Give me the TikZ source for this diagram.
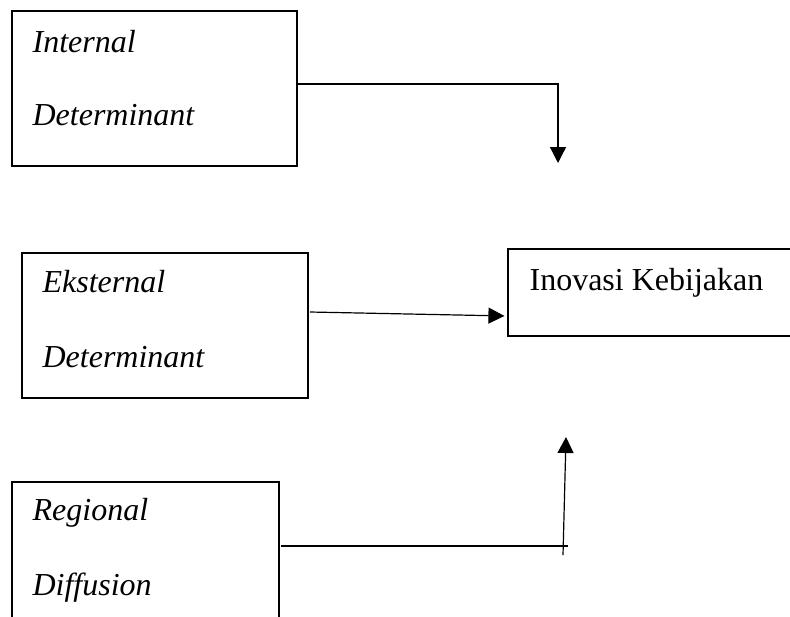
\documentclass[tikz,border=0pt]{standalone}
\usepackage{fontspec}
\setmainfont{Liberation Serif}
\usetikzlibrary{arrows.meta,positioning}

\begin{document}
\begin{tikzpicture}[x=0.5pt,y=-0.5pt,line width=0.6pt,
    box/.style={draw,rectangle,inner sep=0pt},
    lbl/.style={anchor=base west,inner sep=0pt,font=\fontsize{16}{19}\selectfont\itshape},
    arr/.style={-{Triangle[width=8pt,length=8pt]}}]

   \useasboundingbox (0,0) rectangle (790,616);
   \clip (0,0) rectangle (790,616);

   % kotak faktor
   \node[box,minimum width=142.5pt,minimum height=77.5pt] (intbox) at (154.5,88.5) {};
   \node[box,minimum width=143pt,minimum height=72.5pt] (ekbox) at (165,325.5) {};
   \node[box,minimum width=133.5pt,minimum height=74pt] (regbox) at (145.5,556) {};
   \node[box,minimum width=146pt,minimum height=43.5pt] (inobox) at (654,292.5) {};

   % teks
   \node[lbl] (int1) at (32,52) {Internal};
   \node[lbl] (int2) at (32,125) {Determinant};
   \node[lbl] (ek1) at (42,292) {Eksternal};
   \node[lbl] (ek2) at (42,367) {Determinant};
   \node[lbl] (reg1) at (32,520) {Regional};
   \node[lbl] (reg2) at (32,595) {Diffusion};
   \node[lbl,font=\fontsize{16}{19}\selectfont] (ino) at (529,290) {Inovasi Kebijakan};

   % ujung bebas
   \coordinate (intout) at (297,84);
   \coordinate (tipA) at (558,163);
   \coordinate (ekout) at (310,312);
   \coordinate (regout) at (281,546);
   \coordinate (regend) at (568,546);
   \coordinate (upfoot) at (563,555);
   \coordinate (tipC) at (566,437);

   % panah
   \draw[arr] (intout) -| (tipA);
   \draw[arr,shorten >=1.5pt] (ekout) -- (inobox.west |- 0,316);
   \draw (regout) -- (regend);
   \draw[arr] (upfoot) -- (tipC);

\end{tikzpicture}
\end{document}
